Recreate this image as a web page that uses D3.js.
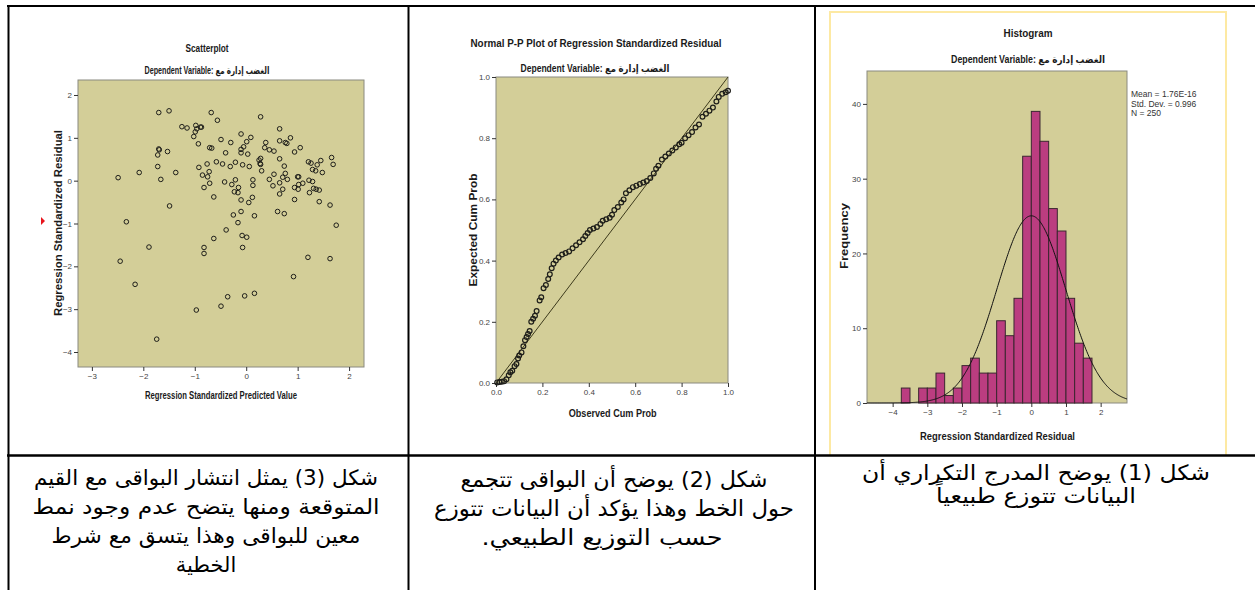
<!DOCTYPE html>
<html>
<head>
<meta charset="utf-8">
<script src="https://cdn.jsdelivr.net/npm/d3@7"></script>
<style>
  html, body { margin: 0; padding: 0; background: #fff; }
  svg { display: block; }
</style>
</head>
<body>
<svg width="1255" height="590"></svg>
<script>
// ---- data ----
const subTitle = 'Dependent Variable: الغضب إدارة مع'

// scatterplot: standardized predicted value vs standardized residual
const scatterPredicted = [
  -1.70, -1.50, -0.68, -0.56, 0.28, -1.25, -1.15, -0.98, -0.96, -0.89, -0.87, -0.99, -1.02, -0.93,
  -0.49, -0.10, 0.09, 0.01, -0.05, -0.30, -0.40, -0.67, -0.71, -1.70, -1.69, -1.72, -1.53, -1.72,
  -1.66, -1.37, -2.08, -2.49, 0.65, 0.86, 0.65, 0.76, 0.79, 0.38, 0.36, 0.45, 0.54, 1.05, 0.94,
  -0.10, -0.10, 0.03, 0.28, 0.28, 0.30, 0.65, 0.74, 0.76, 0.80, 0.71, 0.65, 0.45, 0.52, 0.54, 0.71,
  0.65, 0.61, 0.74, 1.66, 1.69, 1.45, 1.21, 1.26, 1.38, 1.29, 1.35, 1.48, 1.00, 1.02, 1.22, 1.29,
  1.02, 1.10, 0.94, 1.01, 1.23, 1.31, 1.36, 1.42, 0.94, 1.42, 1.63, 1.75, 1.20, 1.63, 0.92, 0.16,
  -0.03, -0.36, -0.49, -0.97, -1.74, -2.16, -2.45, -2.33, -1.89, -1.49, -0.92, -0.76, -0.72, -0.75,
  -0.85, -0.82, -0.71, -0.63, -0.58, -0.46, -0.31, -0.21, -0.07, 0.06, -0.42, -0.28, -0.21, -0.23,
  -0.15, -0.16, -0.10, 0.05, 0.12, 0.13, 0.13, -0.25, -0.10, -0.16, 0.16, -0.39, -0.63, -0.08, 0.01,
  -0.07, -0.82, -0.82, 0.27, 0.25
]
const scatterResidual = [
  1.59, 1.63, 1.59, 1.41, 1.49, 1.26, 1.23, 1.29, 1.21, 1.25, 1.25, 1.14, 1.03, 0.86,
  0.96, 1.09, 1.01, 0.91, 0.79, 0.89, 0.65, 0.76, 0.77, 0.74, 0.72, 0.60, 0.68, 0.33,
  0.03, 0.19, 0.19, 0.07, 1.21, 1.00, 0.93, 0.89, 0.87, 0.89, 0.77, 0.72, 0.69, 0.77, 0.67,
  0.73, 0.65, 0.62, 0.52, 0.38, 0.23, 0.51, 0.34, 0.17, 0.03, 0.08, -0.05, 0.03, -0.12, 0.15, -0.20,
  -0.31, -0.72, -0.77, 0.54, 0.38, 0.47, 0.44, 0.41, 0.37, 0.26, 0.23, 0.19, 0.09, 0.09, 0.01, -0.02,
  -0.09, -0.06, -0.16, -0.20, -0.28, -0.18, -0.20, -0.22, -0.44, -0.49, -0.57, -1.04, -1.79, -1.82, -2.24, -2.63,
  -2.69, -2.71, -2.93, -3.02, -3.70, -2.42, -1.88, -0.96, -1.55, -0.59, 0.31, 0.39, 0.21, 0.09,
  0.13, -0.16, -0.06, -0.38, 0.44, 0.39, 0.33, 0.43, 0.37, 0.33, -0.03, -0.09, 0.02, -0.26,
  -0.16, -0.28, -0.45, -0.51, -0.39, 0.02, -0.11, -0.80, -0.72, -0.98, -0.82, -1.15, -1.35, -1.28, -1.32,
  -1.56, -1.56, -1.70, 0.40, 0.48
]
const scatterXTicks = [-3, -2, -1, 0, 1, 2]
const scatterYTicks = [-4, -3, -2, -1, 0, 1, 2]

// normal P-P plot
const ppObserved = [
  0.005, 0.015, 0.025, 0.035, 0.045, 0.055, 0.062, 0.070, 0.080, 0.088, 0.095, 0.100, 0.110, 0.118,
  0.125, 0.132, 0.138, 0.145, 0.152, 0.160, 0.168, 0.175, 0.188, 0.195, 0.205, 0.215, 0.225, 0.232,
  0.240, 0.248, 0.258, 0.270, 0.285, 0.300, 0.315, 0.330, 0.345, 0.360, 0.375, 0.385, 0.395, 0.405,
  0.420, 0.435, 0.450, 0.460, 0.475, 0.490, 0.500, 0.510, 0.525, 0.540, 0.550, 0.560, 0.575, 0.590,
  0.605, 0.620, 0.635, 0.650, 0.665, 0.680, 0.690, 0.700, 0.715, 0.730, 0.745, 0.760, 0.775, 0.790,
  0.800, 0.815, 0.830, 0.845, 0.860, 0.875, 0.890, 0.905, 0.920, 0.935, 0.950, 0.960, 0.975, 0.990, 1.000
]
const ppExpected = [
  0.002, 0.003, 0.004, 0.006, 0.012, 0.025, 0.035, 0.040, 0.055, 0.062, 0.080, 0.090, 0.100, 0.120,
  0.140, 0.150, 0.160, 0.170, 0.200, 0.210, 0.220, 0.235, 0.270, 0.280, 0.310, 0.320, 0.340, 0.355,
  0.375, 0.390, 0.400, 0.410, 0.420, 0.425, 0.430, 0.440, 0.450, 0.460, 0.470, 0.480, 0.490, 0.500,
  0.505, 0.510, 0.520, 0.530, 0.535, 0.540, 0.550, 0.565, 0.575, 0.590, 0.600, 0.620, 0.630, 0.640,
  0.645, 0.650, 0.655, 0.660, 0.670, 0.685, 0.700, 0.710, 0.730, 0.740, 0.750, 0.760, 0.770, 0.780,
  0.785, 0.800, 0.810, 0.820, 0.835, 0.845, 0.870, 0.880, 0.890, 0.900, 0.920, 0.935, 0.945, 0.950, 0.955
]
const ppTicks = [0, 0.2, 0.4, 0.6, 0.8, 1.0]

// histogram of residuals
const binLeft = [-3.75, -3.5, -3.25, -3.0, -2.75, -2.5, -2.25, -2.0, -1.75, -1.5, -1.25,
  -1.0, -0.75, -0.5, -0.25, 0.0, 0.25, 0.5, 0.75, 1.0, 1.25, 1.5]
const binCounts = [2, 0, 2, 2, 4, 1, 2, 5, 6, 4, 4, 11, 9, 14, 33, 39, 35, 26, 23, 14, 8, 6]
const binWidth = 0.25
const histMean = 1.76e-16
const histSd = 0.996
const histN = 250
const histStats = ['Mean = 1.76E-16', 'Std. Dev. = 0.996', 'N = 250']
const histXTicks = [-4, -3, -2, -1, 0, 1, 2]
const histYTicks = [0, 10, 20, 30, 40]

// captions under each chart (one line per entry)
const captionScatter = ['شكل (3) يمثل انتشار البواقى مع القيم', 'المتوقعة ومنها يتضح عدم وجود نمط', 'معين للبواقى وهذا يتسق مع شرط', 'الخطية']
const captionPP = ['شكل (2) يوضح أن البواقى تتجمع', 'حول الخط وهذا يؤكد أن البيانات تتوزع', 'حسب التوزيع الطبيعي.']
const captionHist = ['شكل (1) يوضح المدرج التكراري أن', 'البيانات تتوزع طبيعياً']

// ---- drawing ----
const svg = d3.select('svg')
const plotBg = '#d3ce98'
const narrow = '"Liberation Sans Narrow", "Liberation Sans", Arial, sans-serif'
const sans = '"Liberation Sans", Arial, "DejaVu Sans", sans-serif'

svg.append('rect').attr('width', 1255).attr('height', 590).attr('fill', '#fff')

function label (g, txt, x, y, size, len, opts = {}) {
  const t = g.append('text')
    .attr('x', x).attr('y', y)
    .attr('text-anchor', opts.anchor || 'middle')
    .attr('font-family', opts.family || sans)
    .attr('font-size', size)
    .attr('font-weight', opts.weight || 'bold')
    .attr('fill', opts.fill || '#1a1a1a')
    .text(txt)
  if (len) t.attr('textLength', len).attr('lengthAdjust', 'spacingAndGlyphs')
  if (opts.rotate) t.attr('transform', `rotate(-90, ${ x }, ${ y })`)
  return t
}

function frame (g, x, y, fmt) {
  const [x0, x1] = x.range()
  const [y0, y1] = y.range()
  g.append('rect')
    .attr('x', x0).attr('y', y1)
    .attr('width', x1 - x0).attr('height', y0 - y1)
    .attr('fill', plotBg)
    .attr('stroke', '#8a8a80').attr('stroke-width', 1)
  const styleAxis = a => {
    a.select('.domain').remove()
    a.selectAll('line').attr('stroke', '#333')
    a.selectAll('text')
      .attr('font-family', narrow).attr('font-size', 8).attr('fill', '#444')
  }
  g.append('g').attr('transform', `translate(${ x0 },0)`)
    .call(d3.axisLeft(y).tickValues(fmt.yTicks).tickSize(4).tickPadding(2).tickFormat(fmt.yFormat))
    .call(styleAxis)
  g.append('g').attr('transform', `translate(0,${ y0 })`)
    .call(d3.axisBottom(x).tickValues(fmt.xTicks).tickSize(4).tickPadding(2).tickFormat(fmt.xFormat))
    .call(styleAxis)
}

// scatterplot
{
  const g = svg.append('g')
  const x = d3.scaleLinear().domain([-3.27, 2.29]).range([78, 364])
  const y = d3.scaleLinear().domain([-4.35, 2.35]).range([367, 80])
  frame(g, x, y, { xTicks: scatterXTicks, yTicks: scatterYTicks, xFormat: d3.format('d'), yFormat: d3.format('d') })
  g.append('g').selectAll('circle')
    .data(d3.zip(scatterPredicted, scatterResidual))
    .join('circle')
    .attr('cx', d => x(d[0])).attr('cy', d => y(d[1]))
    .attr('r', 2.3)
    .attr('fill', 'none').attr('stroke', '#1e1e1a').attr('stroke-width', 1)
  label(g, 'Scatterplot', 207, 52, 11, 43)
  label(g, subTitle, 207, 74, 10, 125)
  label(g, 'Regression Standardized Predicted Value', 221, 399, 10, 152)
  label(g, 'Regression Standardized Residual', 61.5, 223, 10, 186, { rotate: true })
  g.append('path').attr('d', 'M41,217 L45,221 L41,225 Z').attr('fill', '#e8141c')
}

// P-P plot
{
  const g = svg.append('g')
  const x = d3.scaleLinear().domain([0, 1]).range([496, 728])
  const y = d3.scaleLinear().domain([0, 1]).range([383, 77])
  frame(g, x, y, { xTicks: ppTicks, yTicks: ppTicks, xFormat: d3.format('.1f'), yFormat: d3.format('.1f') })
  g.append('line')
    .attr('x1', x(0)).attr('y1', y(0)).attr('x2', x(1)).attr('y2', y(1))
    .attr('stroke', '#3d3a1c').attr('stroke-width', 1)
  g.append('g').selectAll('circle')
    .data(d3.zip(ppObserved, ppExpected))
    .join('circle')
    .attr('cx', d => x(d[0])).attr('cy', d => y(d[1]))
    .attr('r', 2.4)
    .attr('fill', 'none').attr('stroke', '#1e1e1a').attr('stroke-width', 1.2)
  label(g, 'Normal P-P Plot of Regression Standardized Residual', 596, 47, 11, 251)
  label(g, subTitle, 595, 72, 10, 149)
  label(g, 'Observed Cum Prob', 612.7, 417, 10, 88)
  label(g, 'Expected Cum Prob', 476.5, 230, 10, 113, { rotate: true })
}

// histogram
{
  const g = svg.append('g')
  g.append('path')
    .attr('d', 'M830,455 V12 H1226 V455')
    .attr('fill', 'none').attr('stroke', '#fde9a3').attr('stroke-width', 2)
  const x = d3.scaleLinear().domain([-4.74, 2.76]).range([867, 1127])
  const y = d3.scaleLinear().domain([0, 44.4]).range([403, 71])
  frame(g, x, y, { xTicks: histXTicks, yTicks: histYTicks, xFormat: d3.format('d'), yFormat: d3.format('d') })
  g.append('g').selectAll('rect')
    .data(d3.zip(binLeft, binCounts).filter(d => d[1] > 0))
    .join('rect')
    .attr('x', d => x(d[0])).attr('width', d => x(d[0] + binWidth) - x(d[0]))
    .attr('y', d => y(d[1])).attr('height', d => y(0) - y(d[1]))
    .attr('fill', '#bb3d80').attr('stroke', '#3b2630').attr('stroke-width', 1)
  // fitted normal curve from the reported mean, sd and N
  const scale = histN * binWidth / (histSd * Math.sqrt(2 * Math.PI))
  const curve = d3.range(x.domain()[0], x.domain()[1] + 0.001, 0.02)
    .map(v => [v, scale * Math.exp(-0.5 * ((v - histMean) / histSd) ** 2)])
  g.append('path')
    .attr('d', d3.line().x(d => x(d[0])).y(d => y(d[1]))(curve))
    .attr('fill', 'none').attr('stroke', '#111').attr('stroke-width', 1)
  g.append('g').selectAll('text')
    .data(histStats)
    .join('text')
    .attr('x', 1131).attr('y', (d, i) => 97 + i * 9.7)
    .attr('font-family', narrow).attr('font-size', 8.5).attr('fill', '#333')
    .text(d => d)
  label(g, 'Histogram', 1028, 37, 11, 49)
  label(g, subTitle, 1028, 63, 10, 154)
  label(g, 'Regression Standardized Residual', 997.5, 440, 10, 155)
  label(g, 'Frequency', 848, 236, 10, 66, { rotate: true })
}

// table grid
const grid = svg.append('g').attr('stroke', '#000')
grid.append('line').attr('x1', 7).attr('x2', 1255).attr('y1', 6).attr('y2', 6).attr('stroke-width', 2)
grid.append('line').attr('x1', 7).attr('x2', 1255).attr('y1', 455.5).attr('y2', 455.5).attr('stroke-width', 2.5)
;[8.5, 408.5, 815].forEach(xv => {
  grid.append('line').attr('x1', xv).attr('x2', xv).attr('y1', 5).attr('y2', 590).attr('stroke-width', 2)
})

// captions: centre, first baseline, line step, font size, width of each line
const captions = [
  { lines: captionScatter, cx: 206, y0: 485, step: 29, size: 21, widths: [344, 347, 309, null] },
  { lines: captionPP, cx: 614, y0: 487, step: 29, size: 22, widths: [307, 360, 241] },
  { lines: captionHist, cx: 1036, y0: 480, step: 23, size: 21, widths: [348, 200] },
]
captions.forEach(c => {
  svg.append('g').selectAll('text')
    .data(c.lines)
    .join('text')
    .attr('x', (d, i) => i === 2 && c.lines === captionPP ? c.cx - 12 : c.cx)
    .attr('y', (d, i) => c.y0 + i * c.step)
    .attr('text-anchor', 'middle')
    .attr('direction', 'rtl')
    .attr('font-family', '"DejaVu Sans", "Liberation Sans", sans-serif')
    .attr('font-size', c.size)
    .attr('fill', '#000')
    .attr('textLength', (d, i) => c.widths[i])
    .attr('lengthAdjust', 'spacingAndGlyphs')
    .text(d => d)
})
</script>
</body>
</html>
